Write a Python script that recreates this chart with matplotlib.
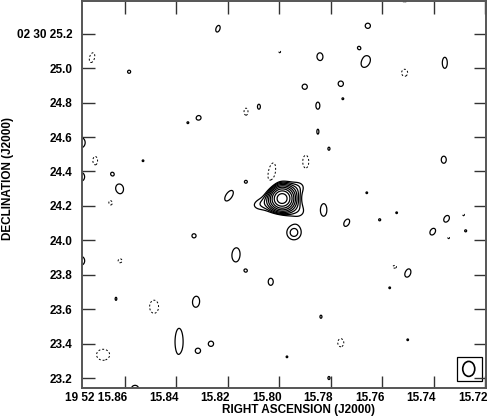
import numpy as np
import matplotlib
matplotlib.use("Agg")
import matplotlib.pyplot as plt
import matplotlib.transforms as mtransforms
from matplotlib.patches import Ellipse, Rectangle

plt.rcParams['font.family'] = ['Liberation Sans', 'DejaVu Sans']
plt.rcParams['font.weight'] = 'bold'

# ---- map extent (RA seconds of 19h52m, Dec arcsec of +02d30m) ----
ra_lim = (15.8767, 15.7198)
dec_lim = (23.142, 25.39)
dec0_deg = 2.5

# ---- contour levels (in units of map rms) ----
neg_levels = [-3.0]
pos_levels = [3.0, 4.24, 6.0, 8.5, 12.0, 17.0, 24.0, 34.0, 48.0]

# ---- emission components: position, peak (rms units), outer-contour size (arcsec), PA (deg) ----
comp_ra = [15.7990, 15.8061, 15.7929, 15.7929, 15.7944,
           15.8239, 15.8584, 15.8313, 15.8356, 15.8770, 15.8530, 15.8650, 15.8623,
           15.8770, 15.8196, 15.8130, 15.8332, 15.8169, 15.8770, 15.8130, 15.8635,
           15.8324, 15.8390, 15.8627, 15.8317, 15.8266, 15.8561, 15.7828, 15.7739,
           15.7611, 15.7545, 15.7351, 15.7405, 15.7277, 15.8034, 15.7502, 15.7572,
           15.7839, 15.7502, 15.7971, 15.7808, 15.7657, 15.7692, 15.7843, 15.7665,
           15.7358, 15.7902, 15.7762, 15.7754, 15.8080, 15.7851, 15.7851, 15.7808,
           15.7362, 15.7661]
comp_dec = [24.243, 24.212, 24.305, 24.177, 24.044,
            25.229, 24.979, 24.712, 24.683, 24.567, 24.462, 24.387, 24.294,
            24.369, 24.259, 24.340, 24.026, 23.916, 23.881, 23.823, 23.660,
            23.643, 23.410, 23.376, 23.358, 23.399, 23.140, 24.177, 24.102,
            24.119, 24.160, 24.125, 24.050, 24.055, 23.759, 23.811, 23.724,
            23.556, 23.422, 23.323, 23.200, 25.246, 25.119, 25.066, 25.037,
            25.031, 24.892, 24.910, 24.822, 24.776, 24.782, 24.631, 24.532,
            24.468, 24.276]
comp_peak = [59.0, 4.2, 3.6, 3.4, 4.8,
             3.8, 3.2, 3.6, 3.05, 3.8, 3.05, 3.05, 4.0,
             3.5, 4.0, 3.1, 3.6, 4.0, 3.6, 3.05, 3.2,
             4.0, 4.1, 3.2, 3.6, 3.6, 3.8, 3.9, 3.7,
             3.1, 3.05, 3.7, 3.7, 3.1, 3.7, 3.8, 3.05,
             3.3, 3.05, 3.05, 3.3, 3.6, 3.05, 3.8, 4.0,
             3.8, 3.6, 3.6, 3.05, 3.4, 3.6, 3.3, 3.2,
             3.7, 3.05]
comp_maj = [0.199, 0.110, 0.060, 0.060, 0.082,
            0.040, 0.018, 0.024, 0.010, 0.058, 0.010, 0.010, 0.064,
            0.050, 0.070, 0.014, 0.024, 0.081, 0.050, 0.010, 0.018,
            0.064, 0.157, 0.012, 0.030, 0.030, 0.040, 0.070, 0.046,
            0.012, 0.010, 0.041, 0.041, 0.012, 0.041, 0.052, 0.010,
            0.018, 0.010, 0.010, 0.018, 0.030, 0.010, 0.046, 0.070,
            0.064, 0.030, 0.030, 0.010, 0.029, 0.041, 0.029, 0.018,
            0.041, 0.010]
comp_min = [0.199, 0.060, 0.045, 0.045, 0.082,
            0.023, 0.018, 0.024, 0.010, 0.046, 0.010, 0.010, 0.052,
            0.040, 0.035, 0.014, 0.024, 0.047, 0.040, 0.010, 0.010,
            0.041, 0.047, 0.012, 0.030, 0.030, 0.035, 0.035, 0.029,
            0.012, 0.010, 0.029, 0.029, 0.012, 0.029, 0.035, 0.010,
            0.012, 0.010, 0.010, 0.012, 0.030, 0.010, 0.035, 0.047,
            0.029, 0.030, 0.030, 0.010, 0.017, 0.023, 0.012, 0.012,
            0.029, 0.010]
comp_pa = [0, 80, 60, 120, 0,
           20, 0, 0, 0, 0, 0, 0, 10,
           0, 35, 0, 0, 5, 0, 0, 0,
           5, 0, 0, 0, 0, 90, 0, 30,
           0, 0, 30, 30, 0, 0, 20, 0,
           0, 0, 0, 0, 0, 0, 0, 30,
           0, 0, 0, 0, 0, 0, 0, 0,
           0, 0]

# ---- negative (noise) components ----
neg_ra = [15.8728, 15.8130, 15.8716, 15.8654, 15.8619, 15.8487, 15.8685, 15.8437,
          15.8363, 15.8014, 15.7285, 15.7343, 15.7552, 15.7762, 15.7514, 15.7999,
          15.7514, 15.7867, 15.7898, 15.8030]
neg_dec = [25.061, 24.747, 24.462, 24.224, 23.881, 23.614, 23.335, 23.347,
           23.265, 24.125, 24.148, 24.015, 23.846, 23.405, 25.395, 25.095,
           24.973, 24.997, 24.456, 24.392]
neg_peak = [-3.6, -3.5, -3.6, -3.6, -3.3, -3.9, -3.9, -3.2,
            -3.4, -3.3, -3.1, -3.1, -3.2, -3.6, -3.6, -3.1,
            -3.6, -3.1, -3.8, -4.2]
neg_maj = [0.058, 0.041, 0.052, 0.047, 0.023, 0.076, 0.076, 0.012,
           0.041, 0.035, 0.012, 0.012, 0.023, 0.047, 0.041, 0.012,
           0.041, 0.012, 0.076, 0.116]
neg_min = [0.029, 0.023, 0.029, 0.035, 0.023, 0.052, 0.064, 0.010,
           0.023, 0.017, 0.010, 0.010, 0.017, 0.035, 0.020, 0.010,
           0.035, 0.010, 0.035, 0.041]
neg_pa = [15, 0, 0, 0, 0, 0, 90, 0,
          0, 90, 0, 0, 90, 0, 90, 0,
          0, 0, 0, 10]

# ---- restoring beam ----
beam_ra, beam_dec = 15.7265, 23.253
beam_maj, beam_min = 0.087, 0.070   # arcsec
box_ra = (15.7312, 15.7215)
box_dec = (23.184, 23.323)

x_ticks = [15.86, 15.84, 15.82, 15.80, 15.78, 15.76, 15.74, 15.72]
x_ticklabels = ['19 52 15.86', '15.84', '15.82', '15.80', '15.78', '15.76', '15.74', '15.72']
y_ticks = [23.2, 23.4, 23.6, 23.8, 24.0, 24.2, 24.4, 24.6, 24.8, 25.0, 25.2]
y_ticklabels = ['23.2', '23.4', '23.6', '23.8', '24.0', '24.2', '24.4', '24.6', '24.8',
                '25.0', '02 30 25.2']

# ---- build the map ----
cosd = np.cos(np.radians(dec0_deg))
ra_g = np.linspace(ra_lim[1] - 0.002, ra_lim[0] + 0.002, 900)
dec_g = np.linspace(dec_lim[0] - 0.03, dec_lim[1] + 0.03, 860)
RA, DEC = np.meshgrid(ra_g, dec_g)
field = np.zeros_like(RA)


def add(ra, dec, peak, maj, mnr, pa):
    global field
    k = np.sqrt(2 * np.log(abs(peak) / 3.0))
    sa = (maj / 2) / k
    sb = (mnr / 2) / k
    dx = -(RA - ra) * 15 * cosd
    dy = DEC - dec
    t = np.radians(pa)
    u = dx * np.sin(t) + dy * np.cos(t)
    v = dx * np.cos(t) - dy * np.sin(t)
    field = field + peak * np.exp(-0.5 * ((u / sa) ** 2 + (v / sb) ** 2))


for p in zip(comp_ra, comp_dec, comp_peak, comp_maj, comp_min, comp_pa):
    add(*p)
for p in zip(neg_ra, neg_dec, neg_peak, neg_maj, neg_min, neg_pa):
    add(*p)

fig = plt.figure(figsize=(4.88, 4.17), dpi=100)
ax = fig.add_axes([82 / 488, 1 - 388 / 417, 404 / 488, 387 / 417])

ax.contour(RA, DEC, field, levels=pos_levels, colors='black', linewidths=0.9,
           linestyles='solid')
ax.contour(RA, DEC, field, levels=neg_levels, colors='black', linewidths=0.7,
           linestyles=[(0, (2, 2))])

ax.add_patch(Rectangle((box_ra[1], box_dec[0]), box_ra[0] - box_ra[1],
                       box_dec[1] - box_dec[0], fill=False, ec='black', lw=0.9))
ax.add_patch(Ellipse((beam_ra, beam_dec), beam_min / (15 * cosd), beam_maj,
                     fill=False, ec='black', lw=1.2))

ax.set_xlim(*ra_lim)
ax.set_ylim(*dec_lim)
ax.set_xticks(x_ticks)
ax.set_xticklabels(x_ticklabels)
ax.set_yticks(y_ticks)
ax.set_yticklabels(y_ticklabels)
ax.tick_params(direction='in', length=9, width=1.0, top=True, right=True,
               labelsize=8.5, color='#333333')
ax.tick_params(axis='x', pad=2.6)
ax.tick_params(axis='y', pad=7)
shift = mtransforms.ScaledTranslation(2 / 100, 0, fig.dpi_scale_trans)
for lab in ax.get_xticklabels():
    lab.set_fontweight('bold')
    lab.set_horizontalalignment('right')
    lab.set_transform(lab.get_transform() + shift)
for lab in ax.get_yticklabels():
    lab.set_fontweight('bold')
for s in ax.spines.values():
    s.set_color('#555555')
    s.set_linewidth(1.4)

ax.set_xlabel('RIGHT ASCENSION (J2000)', fontsize=8.5, fontweight='bold')
ax.xaxis.set_label_coords((298 - 82) / 404, (388 - 404) / 387)
ax.set_ylabel('DECLINATION (J2000)', fontsize=8.5, fontweight='bold')
ax.yaxis.set_label_coords((14 - 82) / 404, (388 - 179) / 387)

fig.savefig('out.png', dpi=100)
